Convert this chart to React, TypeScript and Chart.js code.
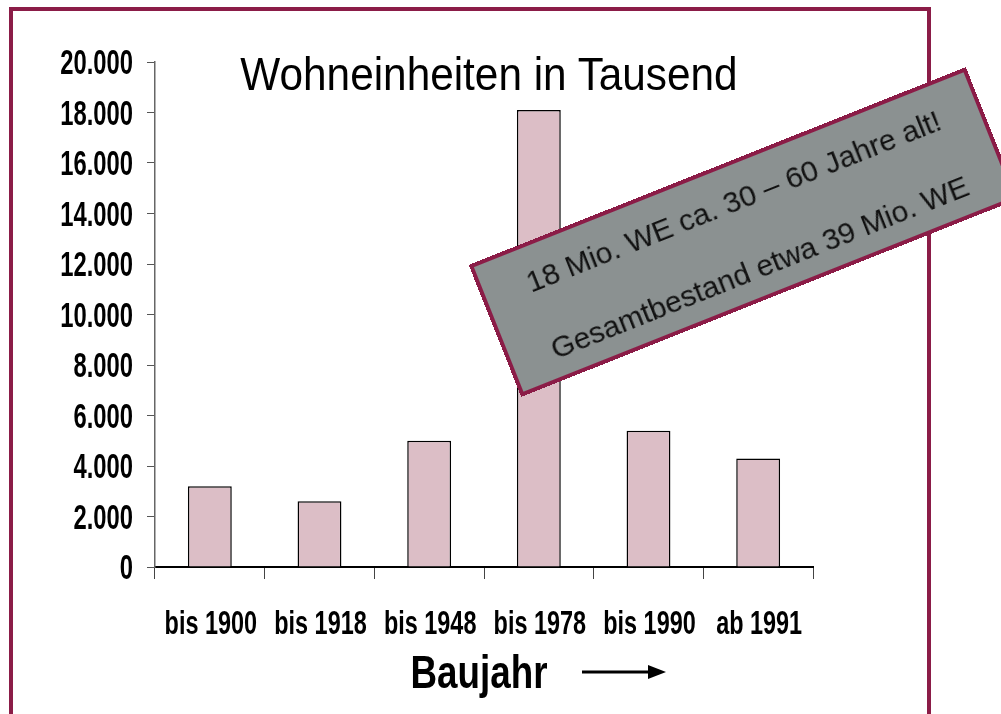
import React, { useEffect, useRef } from 'react';
import { Chart, registerables } from 'chart.js';

Chart.register(...registerables);

// ---- data ----
const categories = ['bis 1900', 'bis 1918', 'bis 1948', 'bis 1978', 'bis 1990', 'ab 1991'];
const unitsThousands = [3200, 2600, 5000, 18100, 5400, 4300];
const yMin = 0;
const yMax = 20000;
const yStep = 2000;
const chartTitle = 'Wohneinheiten in Tausend';
const xAxisTitle = 'Baujahr';
const noteLines = ['18 Mio. WE ca. 30 – 60 Jahre alt!', 'Gesamtbestand etwa 39 Mio. WE'];

// ---- styles ----
const MAROON = '#8b1c47';
const BAR_FILL = '#dcbec6';
const NOTE_FILL = '#8b9191';
const SANS = "'Liberation Sans', Arial, Helvetica, sans-serif";

const fmt = (v: number) => String(v).replace(/\B(?=(\d{3})+(?!\d))/g, '.');

// draws horizontally condensed text (no narrow font is installed)
function narrowText(
  ctx: CanvasRenderingContext2D,
  text: string,
  x: number,
  y: number,
  size: number,
  sx: number,
  align: CanvasTextAlign,
  weight = 'bold'
) {
  ctx.save();
  ctx.translate(x, y);
  ctx.scale(sx, 1);
  ctx.font = `${weight} ${size}px ${SANS}`;
  ctx.fillStyle = '#000';
  ctx.textAlign = align;
  ctx.textBaseline = 'alphabetic';
  ctx.fillText(text, 0, 0);
  ctx.restore();
}

export default function App() {
  const ref = useRef<HTMLCanvasElement>(null);

  useEffect(() => {
    if (!ref.current) return;
    const labelsPlugin = {
      id: 'condensedLabels',
      afterDraw(chart: any) {
        const { ctx, chartArea } = chart;
        const xs = chart.scales.x;
        const ys = chart.scales.y;
        // y tick labels
        const yRight = ys.right - 8 - 14;
        ys.ticks.forEach((t: any) => {
          const py = ys.getPixelForValue(t.value);
          narrowText(ctx, fmt(t.value), yRight, py + 12, 35, 0.68, 'right');
        });
        // x tick labels
        categories.forEach((c, i) => {
          const px = xs.getPixelForValue(i);
          narrowText(ctx, c, px + 1, xs.top + 67, 33, 0.71, 'center');
        });
        // axis title + arrow
        const cx = (chartArea.left + chartArea.right) / 2;
        narrowText(ctx, xAxisTitle, cx - 5, xs.bottom - 26, 46, 0.8, 'center');
        const y = xs.bottom - 42;
        ctx.save();
        ctx.strokeStyle = '#000';
        ctx.fillStyle = '#000';
        ctx.lineWidth = 3;
        ctx.beginPath();
        ctx.moveTo(cx + 98, y);
        ctx.lineTo(cx + 166, y);
        ctx.stroke();
        ctx.beginPath();
        ctx.moveTo(cx + 164, y - 7);
        ctx.lineTo(cx + 182, y);
        ctx.lineTo(cx + 164, y + 7);
        ctx.closePath();
        ctx.fill();
        ctx.restore();
      },
    };

    const chart = new Chart(ref.current, {
      type: 'bar',
      data: {
        labels: categories,
        datasets: [
          {
            data: unitsThousands,
            backgroundColor: BAR_FILL,
            borderColor: '#000',
            borderWidth: 1.5,
            barPercentage: 0.8,
            categoryPercentage: 0.5,
          },
        ],
      },
      options: {
        responsive: false,
        animation: false,
        devicePixelRatio: 1,
        layout: { padding: { left: 0, top: 62, right: 188, bottom: 0 } },
        plugins: {
          legend: { display: false },
          tooltip: { enabled: false },
          title: { display: false },
        },
        scales: {
          x: {
            grid: {
              display: true,
              drawOnChartArea: false,
              drawTicks: true,
              tickLength: 12,
              color: '#444',
              lineWidth: 1,
              offset: true,
            },
            border: { display: true, color: '#000', width: 2 },
            ticks: { display: false, autoSkip: false, maxRotation: 0 },
            title: { display: false, text: xAxisTitle },
            afterFit(s: any) {
              s.height = 147;
            },
          },
          y: {
            min: yMin,
            max: yMax,
            ticks: { display: false, stepSize: yStep, callback: (v: any) => fmt(Number(v)) },
            grid: { drawOnChartArea: false, drawTicks: true, tickLength: 8, color: '#555' },
            border: { display: true, color: '#666', width: 1.5 },
            afterFit(s: any) {
              s.width = 155;
            },
          },
        },
      },
      plugins: [labelsPlugin],
    } as any);

    return () => chart.destroy();
  }, []);

  return (
    <div
      style={{
        position: 'absolute',
        left: 0,
        top: 0,
        width: 1001,
        height: 714,
        overflow: 'hidden',
        background: '#fff',
      }}
    >
      <div
        style={{
          position: 'absolute',
          left: 9,
          top: 7,
          width: 922,
          height: 780,
          boxSizing: 'border-box',
          border: `4px solid ${MAROON}`,
        }}
      />
      <canvas
        ref={ref}
        width={1001}
        height={714}
        style={{ position: 'absolute', left: 0, top: 0, width: 1001, height: 714, display: 'block' }}
      />
      <div
        style={{
          position: 'absolute',
          left: 188.5,
          top: 51,
          width: 600,
          textAlign: 'center',
          fontFamily: SANS,
          fontSize: 46,
          lineHeight: '46px',
          color: '#000',
          whiteSpace: 'nowrap',
          transform: 'scaleX(0.92)',
          transformOrigin: 'center',
        }}
      >
        {chartTitle}
      </div>
      <div
        style={{
          position: 'absolute',
          left: 475.5,
          top: 161,
          width: 535,
          height: 142,
          boxSizing: 'border-box',
          border: `4px solid ${MAROON}`,
          background: NOTE_FILL,
          transform: 'rotate(-21.7deg)',
          transformOrigin: 'center',
        }}
      >
        {noteLines.map((line, i) => (
          <div
            key={i}
            style={{
              position: 'absolute',
              left: 4,
              right: 0,
              top: i === 0 ? 20 : 91,
              textAlign: 'center',
              fontFamily: SANS,
              fontSize: 30,
              lineHeight: '30px',
              color: '#111',
              whiteSpace: 'nowrap',
            }}
          >
            {line}
          </div>
        ))}
      </div>
    </div>
  );
}
